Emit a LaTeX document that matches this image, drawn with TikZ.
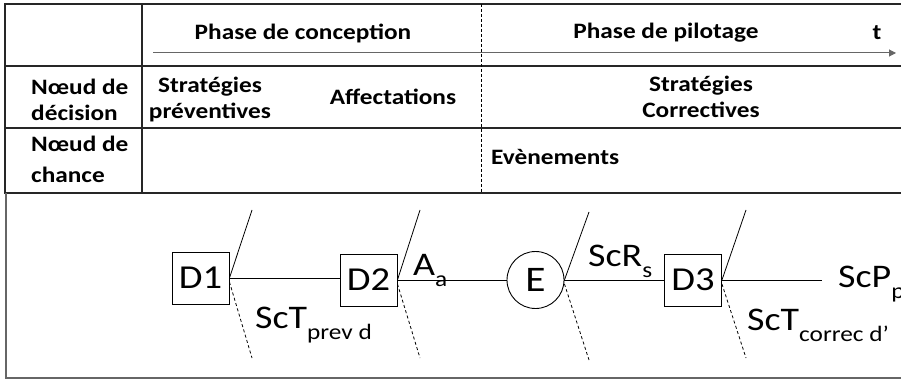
\documentclass[tikz,border=0pt]{standalone}
\usepackage{fontspec}
\setmainfont{Carlito}[FakeStretch=1.15]
\usetikzlibrary{arrows.meta}
\begin{document}
\begin{tikzpicture}[x=1pt,y=-1pt,
 tab/.style={font=\fontsize{22}{26}\selectfont\bfseries, align=center, inner sep=0pt},
 dbox/.style={draw, line width=0.9pt, minimum width=57pt, minimum height=52pt, inner sep=0pt, font=\fontsize{33.5}{33.5}\selectfont},
 chancenode/.style={draw, circle, line width=0.9pt, minimum size=57pt, inner sep=0pt, font=\fontsize{36}{36}\selectfont},
 lbl/.style={font=\fontsize{33}{33}\selectfont, inner sep=0pt, anchor=base west},
 gridline/.style={line width=1.3pt, draw=black!85},
 edge/.style={line width=0.8pt},
 branch/.style={line width=0.8pt},
 dbranch/.style={line width=0.8pt, dashed, dash pattern=on 3pt off 2.5pt}
]
\useasboundingbox (0,0) rectangle (901,379);
% table grid
\draw[gridline] (901,4) -- (5,4) -- (5,193) -- (901,193);
\draw[gridline] (5,66) -- (901,66);
\draw[gridline] (5,128) -- (901,128);
\draw[gridline] (142,4) -- (142,193);
\draw[line width=1.3pt, draw=black!60] (6,193) -- (6,378) -- (901,378);
% phase separator
\draw[line width=0.7pt, dashed, dash pattern=on 3pt off 2pt] (481,4) -- (481,193);
% time arrow
\coordinate (ta) at (153,53);
\coordinate (tb) at (896,53);
\draw[line width=1pt, draw=black!60, -{Triangle[length=7pt,width=7pt]}] (ta) -- (tb);
% table texts
\node[tab] (pc) at (303,33) {Phase de conception};
\node[tab] (pp) at (666,33) {Phase de pilotage};
\node[tab] (tt) at (877,33) {t};
\node[tab, align=left, anchor=west] (nd) at (31,100) {Nœud de\\décision};
\node[tab] (sp) at (210,100) {Stratégies\\préventives};
\node[tab] (af) at (393,97) {Affectations};
\node[tab] (sc) at (701,97) {Stratégies\\Correctives};
\node[tab, align=left, anchor=west, font=\fontsize{22}{31}\selectfont\bfseries] (nc) at (31,159) {Nœud de\\chance};
\node[tab, anchor=west] (ev) at (491,157) {Evènements};
% decision tree
\node[dbox] (D1) at (200.5,278) {D1};
\node[dbox] (D2) at (368.5,280) {D2};
\node[chancenode] (E) at (535.5,280) {E};
\node[dbox] (D3) at (693,280) {D3};
\coordinate (end) at (822,280);
\draw[edge] (D1.east) -- (D1.east -| D2.west);
\draw[edge] (D2.east) -- (E.west);
\draw[edge] (E.east) -- (D3.west);
\draw[edge] (D3.east) -- (end);
% branches
\coordinate (u1) at (252,210); \coordinate (v1) at (252,358);
\coordinate (u2) at (420,210); \coordinate (v2) at (420,358);
\coordinate (u3) at (589,212); \coordinate (v3) at (589,360);
\coordinate (u4) at (746,210); \coordinate (v4) at (746,358);
\draw[branch] (D1.east) -- (u1);
\draw[branch] (D2.east) -- (u2);
\draw[branch] (E.east) -- (u3);
\draw[branch] (D3.east) -- (u4);
\draw[dbranch] ([yshift=-4pt]D1.east) -- (v1);
\draw[dbranch] ([yshift=-4pt]D2.east) -- (v2);
\draw[dbranch] ([yshift=-4pt]E.east) -- (v3);
\draw[dbranch] ([yshift=-4pt]D3.east) -- (v4);
% labels
\newcommand{\lowsub}[1]{\raisebox{-11pt}{\fontsize{22}{22}\selectfont #1}}
\node[lbl] (l1) at (255,328) {ScT\lowsub{prev d}};
\node[lbl] (l2) at (413,275) {A\lowsub{a}};
\node[lbl] (l3) at (588,266) {ScR\lowsub{s}};
\node[lbl] (l4) at (838,287) {ScP\lowsub{p}};
\node[lbl] (l5) at (747,330) {ScT\lowsub{correc d’}};
\end{tikzpicture}
\end{document}
